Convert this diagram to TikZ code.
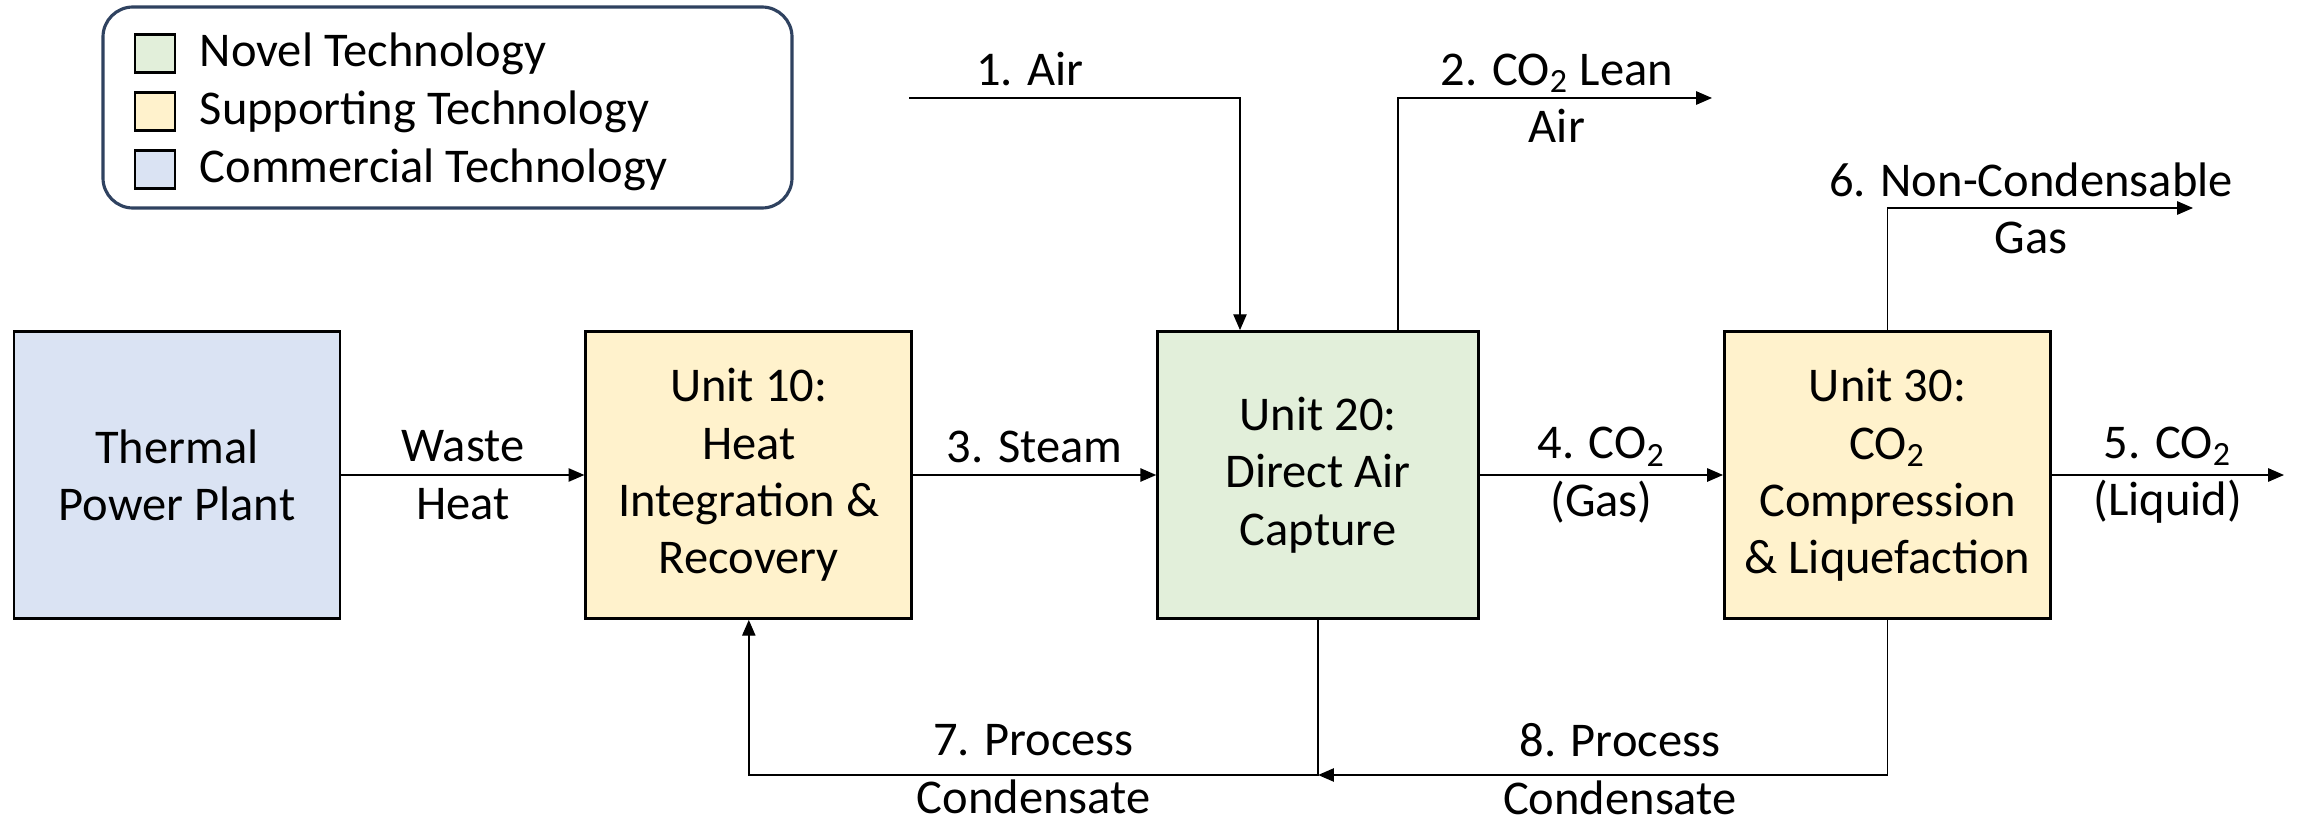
\documentclass[tikz,border=0pt]{standalone}
\usepackage{fontspec}
\setmainfont{Carlito}
\usetikzlibrary{positioning,arrows.meta}
\definecolor{novelgreen}{HTML}{E2EFDA}
\definecolor{supportyellow}{HTML}{FFF2CC}
\definecolor{commercialblue}{HTML}{DAE3F3}
\definecolor{legendedge}{HTML}{2F4260}
\tikzset{
    unit/.style={draw, rectangle, line width=0.8pt, align=center,
        minimum width=3.26cm, minimum height=2.87cm, fill=#1},
    unit1/.style={unit=novelgreen},
    unit2/.style={unit=supportyellow},
    unit3/.style={unit=commercialblue},
    flow/.style={-{Triangle[length=4.5pt,width=3.8pt]}, line width=0.4pt},
    stream/.style={align=center, inner sep=0pt},
}

\begin{document}
\begin{tikzpicture}[font=\fontsize{13.8pt}{16.3pt}\selectfont]
      \useasboundingbox (0,0) rectangle (23,8.22);
      % legend
      \draw[legendedge, line width=0.9pt, rounded corners=0.3cm] (1.03,6.14) rectangle (7.92,8.15);
      \foreach \col/\txt [count=\i] in {novelgreen/Novel Technology,
          supportyellow/Supporting Technology, commercialblue/Commercial Technology}
      {
      \node[unit=\col, minimum width=0.4cm, minimum height=0.38cm, line width=0.6pt] (key\i) at (1.55, 8.265-0.58*\i) {};
      \node[right=0.23cm of key\i, inner sep=0pt] (keytext\i) {\txt};
      }

      \node[unit3] (plant) at (1.77,3.47) {Thermal\\Power Plant};
      \node[unit2, right=2.43cm of plant] (heat) {Unit 10:\\Heat\\Integration \&\\Recovery};
      \node[unit1, minimum width=3.21cm, right=2.43cm of heat] (dac) {Unit 20:\\Direct Air\\Capture};
      \node[unit2, right=2.43cm of dac] (comp) {Unit 30:\\CO\textsubscript{2}\\Compression\\\& Liquefaction};

      \coordinate (airin) at (9.09,7.24);
      \coordinate (airdown) at (12.40,0);
      \coordinate (leanup) at (13.98,0);
      \coordinate (leanend) at (17.12,7.24);
      \coordinate (gasend) at (21.93,6.14);
      \coordinate (liqend) at (22.84,3.47);
      \coordinate (condrow) at (0,0.47);
      \coordinate (cond) at (dac.south |- condrow);

      \draw[flow] (plant) -- (heat) node[stream, midway] {Waste\\Heat};
      \draw[flow] (heat) -- (dac) node[midway, above] {3. Steam};
      \draw[flow] (dac) -- (comp) node[stream, midway] {4. CO\textsubscript{2}\\(Gas)};
      \draw[flow] (comp) -- (liqend) node[stream, midway] {5. CO\textsubscript{2}\\(Liquid)};

      \draw[flow] (airin) -| (dac.north -| airdown) node[pos=0.183, above] {1. Air};
      \draw[flow] (dac.north -| leanup) |- (leanend) node[stream, pos=0.753] {2. CO\textsubscript{2} Lean\\Air};
      \draw[flow] (comp.north) |- (gasend) node[stream, pos=0.735] {6. Non-Condensable\\Gas};

      % condensate returns
      \draw[flow] (dac.south) -- (cond) -| (heat.south) node[stream, pos=0.25, yshift=0.06cm] {7. Process\\Condensate};
      \draw[flow] (comp.south) |- (cond) node[stream, pos=0.735, yshift=0.06cm] {8. Process\\Condensate};
\end{tikzpicture}
\end{document}
